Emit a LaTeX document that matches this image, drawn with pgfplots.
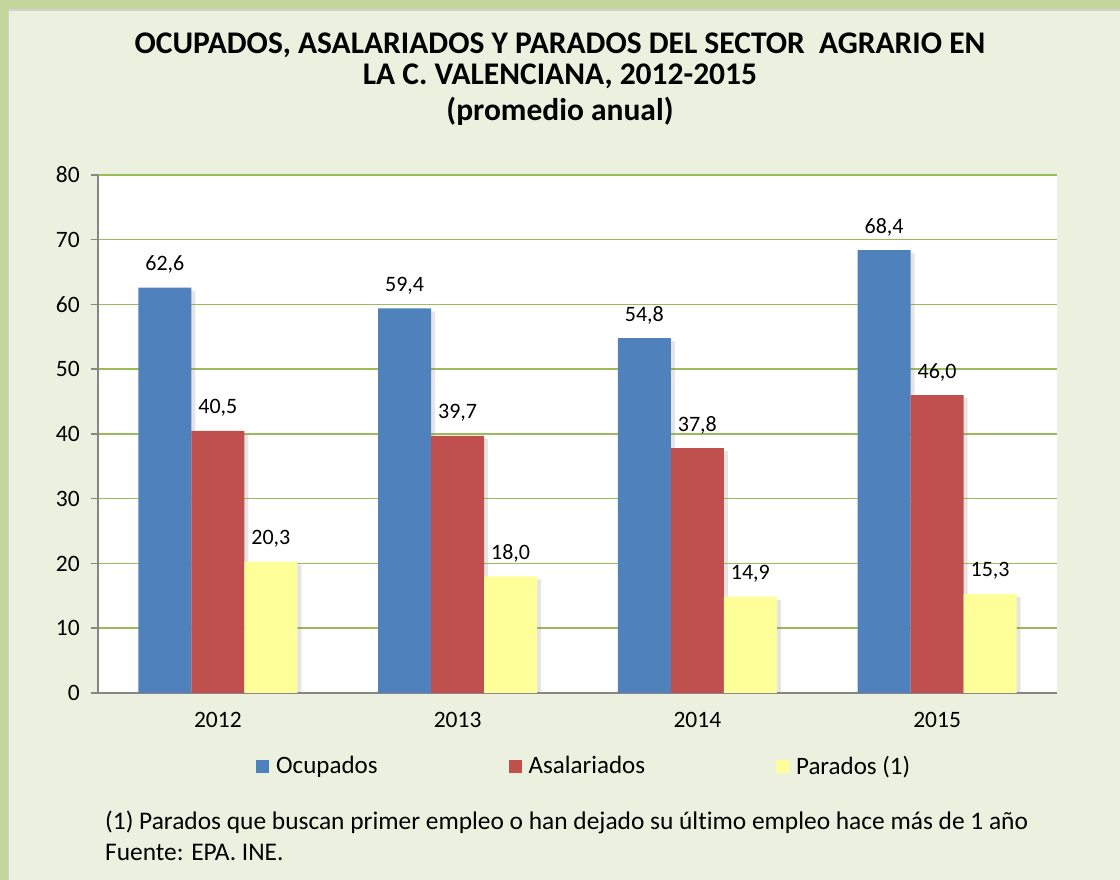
\documentclass[border=0pt]{standalone}
\usepackage{pgfplots}
\pgfplotsset{compat=1.18}
\usepackage{fontspec}
\setmainfont{Carlito}[Ligatures=NoCommon]
\usetikzlibrary{shadows,backgrounds}
\definecolor{bordergreen}{HTML}{C3D69B}
\definecolor{bggreen}{HTML}{EBF1DE}
\definecolor{gridgreen}{HTML}{9BBB59}
\definecolor{axisgray}{HTML}{868686}
\definecolor{ocup}{HTML}{4F81BD}
\definecolor{asal}{HTML}{C0504D}
\definecolor{parad}{HTML}{FFFF99}
\begin{document}
\begin{tikzpicture}
\begin{axis}[
  name=ax,
  scale only axis, width=959pt, height=518pt,
  axis background/.style={fill=white},
  xmin=-0.5, xmax=3.5, ymin=0, ymax=80,
  ytick={0,10,...,80},
  xtick={0,1,2,3},
  xticklabels={2012,2013,2014,2015},
  xtick style={draw=none},
  extra x ticks={-0.5,0.5,1.5,2.5,3.5},
  extra x tick labels={},
  extra x tick style={grid=none, tick style={draw=axisgray, line width=1.5pt}},
  ytick style={draw=axisgray, line width=1.5pt},
  tick align=outside, major tick length=7pt,
  axis x line*=bottom, axis y line*=left,
  axis line style={draw=axisgray, line width=1.5pt, -},
  ymajorgrids, major grid style={draw=gridgreen, line width=1.5pt},
  ticklabel style={font=\fontsize{23.5}{28}\selectfont},
  yticklabel style={anchor=east, inner sep=0pt, xshift=-11pt},
  xticklabel style={yshift=-9pt},
  /pgf/number format/assume math mode=true,
  ybar=0pt, bar width=53pt,
  nodes near coords,
  nodes near coords style={font=\fontsize{22}{26}\selectfont, anchor=center, yshift=23pt,
    /pgf/number format/.cd, fixed, fixed zerofill, precision=1, use comma, assume math mode=true},
  legend image code/.code={\fill[#1] (0pt,-6.5pt) rectangle (13pt,6.5pt);},
  legend style={at={(0.507,-0.141)}, anchor=center, draw=none, fill=none,
    font=\fontsize{25}{30}\selectfont, legend columns=3,
    /tikz/every even column/.append style={column sep=129pt},
    /tikz/every odd column/.append style={column sep=5pt}},
]
\addplot[fill=ocup, draw=none, forget plot, bar shift=-53pt, drop shadow={shadow xshift=4pt, shadow yshift=-3pt, opacity=0.2}] coordinates {(0,62.6) (1,59.4) (2,54.8) (3,68.4)};
\addplot[fill=asal, draw=none, forget plot, bar shift=0pt, drop shadow={shadow xshift=4pt, shadow yshift=-3pt, opacity=0.2}] coordinates {(0,40.5) (1,39.7) (2,37.8) (3,46.0)};
\addplot[fill=parad, draw=none, forget plot, bar shift=53pt, drop shadow={shadow xshift=4pt, shadow yshift=-3pt, opacity=0.2}] coordinates {(0,20.3) (1,18.0) (2,14.9) (3,15.3)};
\addlegendimage{fill=ocup, draw=none}
\addlegendentry{Ocupados}
\addlegendimage{fill=asal, draw=none}
\addlegendentry{Asalariados}
\addlegendimage{fill=parad, draw=none}
\addlegendentry{Parados (1)}
\coordinate (O) at (rel axis cs:0,0);
\end{axis}
\begin{scope}[shift={(O)}, xshift=-98pt, yshift=-187pt, x=1pt, y=1pt]
\begin{pgfonlayer}{background}
\fill[bordergreen] (0,0) rectangle (1120,880);
\fill[black!18] (8,0) rectangle (1120,871);
\fill[bggreen] (9,0) rectangle (1120,869);
\end{pgfonlayer}
\node[font=\fontsize{31.5}{36}\selectfont\bfseries] at (560,835) {OCUPADOS, ASALARIADOS Y PARADOS DEL SECTOR\ \ AGRARIO EN};
\node[font=\fontsize{31.5}{36}\selectfont\bfseries] at (560,804) {LA C. VALENCIANA, 2012-2015};
\node[font=\fontsize{31.5}{36}\selectfont\bfseries] at (560,769) {(promedio anual)};
\node[font=\fontsize{25.4}{30}\selectfont, anchor=west, inner sep=0pt] at (105,58) {(1) Parados que buscan primer empleo o han dejado su último empleo hace más de 1 año};
\node[font=\fontsize{25.4}{30}\selectfont, anchor=west, inner sep=0pt] at (105,28) {Fuente: EPA. INE.};
\useasboundingbox (0,0) rectangle (1120,880);
\end{scope}
\end{tikzpicture}
\end{document}
